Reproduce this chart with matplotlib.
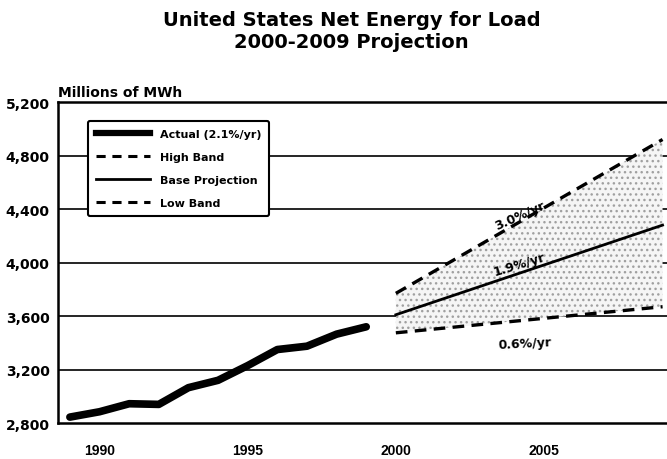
import matplotlib
matplotlib.use("Agg")
import matplotlib.pyplot as plt
from matplotlib.lines import Line2D

plt.rcParams['font.family'] = ['DejaVu Sans']
plt.rcParams['font.weight'] = 'bold'

# Data (millions of MWh)
actual_years = [1989, 1990, 1991, 1992, 1993, 1994, 1995, 1996, 1997, 1998, 1999]
actual_values = [2845, 2885, 2945, 2940, 3065, 3120, 3230, 3350, 3375, 3465, 3520]

proj_years = [2000, 2009]
high_band = [3770, 4920]
base_proj = [3610, 4280]
low_band = [3475, 3670]

y_ticks = [2800, 3200, 3600, 4000, 4400, 4800, 5200]
y_tick_labels = ["2,800", "3,200", "3,600", "4,000", "4,400", "4,800", "5,200"]
x_ticks = [1990, 1995, 2000, 2005]
x_tick_labels = ["1990", "1995", "2000", "2005"]

legend_labels = ["Actual (2.1%/yr)", "High Band", "Base Projection", "Low Band"]
rate_labels = ["3.0%/yr", "1.9%/yr", "0.6%/yr"]

fig = plt.figure(figsize=(6.67, 4.6), dpi=100)
ax = fig.add_axes([0.087, 0.078, 0.913, 0.698])

ax.set_xlim(1988.6, 2009.15)
ax.set_ylim(2800, 5200)

# gridlines
for y in y_ticks[1:-1]:
    ax.axhline(y, color='black', lw=1.2, zorder=1)

# shaded band
ax.fill_between(proj_years, low_band, high_band, facecolor='#f5f5f5',
                hatch='...', edgecolor='#a0a0a0', linewidth=0, zorder=2)

ax.plot(actual_years, actual_values, color='black', lw=5.5, solid_capstyle='round',
        solid_joinstyle='round', zorder=4)
ax.plot(proj_years, high_band, color='black', lw=2.4, dashes=(3.5, 2.2), zorder=4)
ax.plot(proj_years, base_proj, color='black', lw=2.0, zorder=4)
ax.plot(proj_years, low_band, color='black', lw=2.4, dashes=(3.5, 2.2), zorder=4)

ax.text(2004.18, 4355, rate_labels[0], rotation=24, ha='center', va='center',
        fontsize=9, fontweight='bold', zorder=5)
ax.text(2004.18, 3990, rate_labels[1], rotation=17, ha='center', va='center',
        fontsize=9, fontweight='bold', zorder=5)
ax.text(2004.34, 3398, rate_labels[2], rotation=3, ha='center', va='center',
        fontsize=9, fontweight='bold', zorder=5)

ax.set_yticks(y_ticks)
ax.set_yticklabels(y_tick_labels, fontsize=10, fontweight='bold')
ax.set_xticks(x_ticks)
ax.set_xticklabels(x_tick_labels, fontsize=10, fontweight='bold',
                   family='Liberation Sans')
ax.tick_params(length=0)
ax.tick_params(axis='x', pad=14)
ax.tick_params(axis='y', pad=6)

for s in ['left', 'bottom', 'top']:
    ax.spines[s].set_linewidth(1.8)
ax.spines['right'].set_visible(False)

handles = [
    Line2D([0], [0], color='black', lw=4.5),
    Line2D([0], [0], color='black', lw=2.2, dashes=(3, 2.2)),
    Line2D([0], [0], color='black', lw=2.0),
    Line2D([0], [0], color='black', lw=2.2, dashes=(3, 2.2)),
]
leg = ax.legend(handles, legend_labels, loc='upper left',
                bbox_to_anchor=(0.049, 0.941), frameon=True,
                fancybox=True, edgecolor='black', framealpha=1,
                handlelength=4.8, handletextpad=0.9, borderpad=0.75,
                labelspacing=1.15, borderaxespad=0,
                prop={'weight': 'bold', 'size': 8, 'family': 'DejaVu Sans'})
leg.get_frame().set_linewidth(1.5)
leg.set_zorder(6)

fig.text(0.527, 0.931, "United States Net Energy for Load\n2000-2009 Projection",
         ha='center', va='center', fontsize=14, fontweight='bold', linespacing=1.2)
fig.text(0.087, 0.798, "Millions of MWh", ha='left', va='center',
         fontsize=10, fontweight='bold')

fig.savefig("out.png", dpi=100)
